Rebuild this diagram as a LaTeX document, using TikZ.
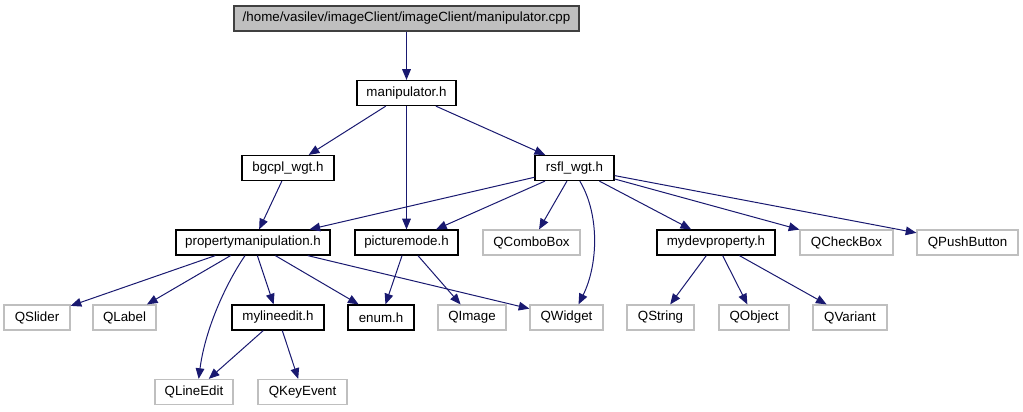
\documentclass[tikz,border=0pt]{standalone}
\usepackage{fontspec}
\setsansfont{Liberation Sans}
\usepackage{tikz}
\usetikzlibrary{positioning,arrows.meta,calc}
\definecolor{EdgeBlue}{RGB}{25,25,112}
\definecolor{ExtBorder}{RGB}{191,191,191}
\definecolor{RootFill}{RGB}{191,191,191}

\begin{document}
\begin{tikzpicture}[
  x=0.75pt, y=-0.75pt,
  font=\sffamily\normalsize,
  >={Triangle[length=8pt,width=6.5pt]},
  hdr/.style={
    rectangle, draw=black, line width=0.9pt, fill=white,
    inner sep=0pt, minimum height=18.75pt, align=center
  },
  ext/.style={
    rectangle, draw=ExtBorder, line width=0.9pt, fill=white,
    inner sep=0pt, minimum height=18.75pt, align=center
  },
  root/.style={hdr, fill=RootFill, draw=black!75},
  wd/.style={minimum width=#1*0.75pt},
  edge/.style={->, draw=EdgeBlue, line width=0.75pt}
]
\useasboundingbox (0,0) rectangle (1023,411);

% --- source file and its first header ---
\node[root, wd=345] (top) at (406.5,18.5) {/home/vasilev/imageClient/imageClient/manipulator.cpp};
\node[hdr, wd=99] (manip) at (406.5,93) {manipulator.h};

% --- second row ---
\node[hdr, wd=92] (bgcpl) at (288,168) {bgcpl\_wgt.h};
\node[hdr, wd=79] (rsfl) at (574.5,168) {rsfl\_wgt.h};

% --- third row ---
\node[hdr, wd=154] (propman) at (253,242.5) {propertymanipulation.h};
\node[hdr, wd=103] (picmode) at (406.5,242.5) {picturemode.h};
\node[ext, wd=97] (qcombobox) at (531.5,242.5) {QComboBox};
\node[hdr, wd=118] (mydevprop) at (716,242.5) {mydevproperty.h};
\node[ext, wd=93] (qcheckbox) at (846.5,242.5) {QCheckBox};
\node[ext, wd=101] (qpushbutton) at (967.5,242.5) {QPushButton};

% --- fourth row ---
\node[ext, wd=66] (qslider) at (37,317.5) {QSlider};
\node[ext, wd=63] (qlabel) at (124.5,317.5) {QLabel};
\node[hdr, wd=92] (mylineedit) at (278,317.5) {mylineedit.h};
\node[hdr, wd=66] (enumh) at (381,317.5) {enum.h};
\node[ext, wd=68] (qimage) at (472,317.5) {QImage};
\node[ext, wd=73] (qwidget) at (566.5,317.5) {QWidget};
\node[ext, wd=67] (qstring) at (660.5,317.5) {QString};
\node[ext, wd=70] (qobject) at (754,317.5) {QObject};
\node[ext, wd=74] (qvariant) at (850,317.5) {QVariant};

% --- fifth row ---
\node[ext, wd=78] (qlineedit) at (194,392) {QLineEdit};
\node[ext, wd=89] (qkeyevent) at (302.5,392) {QKeyEvent};

% --- include edges ---
\draw[edge] (top) -- (manip);
\draw[edge] (manip) -- (bgcpl);
\draw[edge] (manip) -- (picmode);
\draw[edge] (manip) -- (rsfl);
\draw[edge] (bgcpl) -- (propman);
\draw[edge] (rsfl) -- (propman);
\draw[edge] (rsfl) -- (picmode);
\draw[edge] (rsfl) -- (qcombobox);
\draw[edge] ([xshift=4pt]rsfl.south) .. controls (600,215) and (598,265) .. ([xshift=9pt]qwidget.north);
\draw[edge] (rsfl) -- (mydevprop);
\draw[edge] (rsfl) -- (qcheckbox);
\draw[edge] (rsfl) -- (qpushbutton);
\draw[edge] (propman) -- (qslider);
\draw[edge] (propman) -- (qlabel);
\draw[edge] ([xshift=-6pt]propman.south) .. controls (225,285) and (205,330) .. ([xshift=3.5pt]qlineedit.north);
\draw[edge] (propman) -- (mylineedit);
\draw[edge] (propman) -- (enumh);
\draw[edge] (propman) -- (qwidget);
\draw[edge] (picmode) -- (enumh);
\draw[edge] (picmode) -- (qimage);
\draw[edge] (mylineedit) -- (qlineedit);
\draw[edge] (mylineedit) -- (qkeyevent);
\draw[edge] (mydevprop) -- (qstring);
\draw[edge] (mydevprop) -- (qobject);
\draw[edge] (mydevprop) -- (qvariant);

\end{tikzpicture}
\end{document}
